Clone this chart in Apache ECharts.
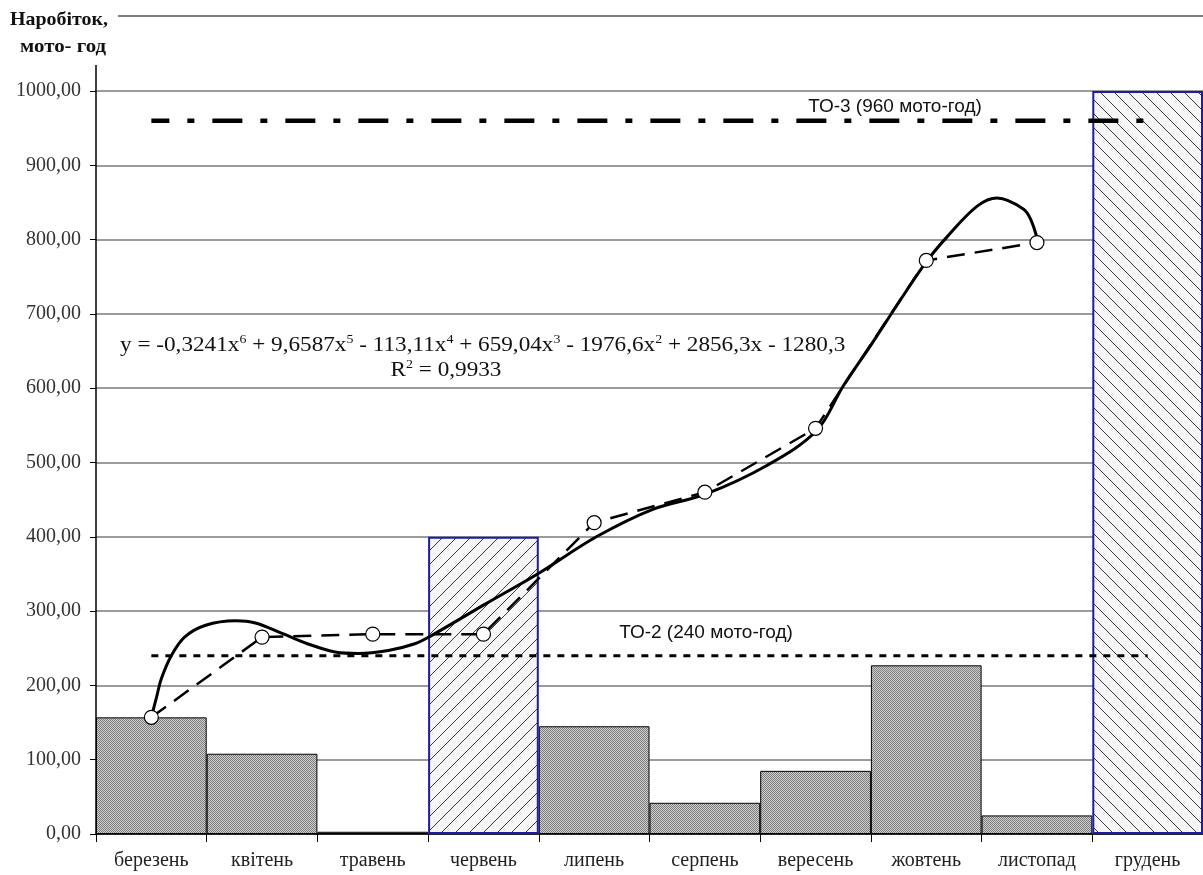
<!DOCTYPE html>
<html>
<head>
<meta charset="utf-8">
<script src="https://cdn.jsdelivr.net/npm/echarts@6/dist/echarts.min.js"></script>
<style>
  html, body { margin: 0; padding: 0; background: #fff; }
  #chart { width: 1203px; height: 875px; }
</style>
</head>
<body>
<div id="chart"></div>
<script>
// months
var months = ['березень', 'квітень', 'травень', 'червень', 'липень', 'серпень', 'вересень', 'жовтень', 'листопад', 'грудень'];
// monthly work (grey bars), hatched months = maintenance
var monthly = [157, 108, 3, null, 145, 42, 85, 227, 25, null];
var hatched = [null, null, null, 400, null, null, null, null, null, 1000];
// cumulative, dashed line with circles
var cumulative = [157, 265, 269, 269, 419, 460, 546, 772, 796, null];
// trend curve: [month position, value]
var trendX = [1.00, 1.05, 1.09, 1.18, 1.30, 1.49, 1.76, 1.94, 2.18, 2.45, 2.66, 2.87, 3.14, 3.38, 3.53, 4.00, 4.50, 5.02, 5.53, 6.00, 6.56, 7.01, 7.25, 7.50, 7.75, 8.00, 8.19, 8.46, 8.64, 8.88, 8.95, 9.01];
var trendY = [157, 186, 209, 240, 265, 281, 287, 284, 270, 254, 245, 243, 247, 256, 267, 308, 351, 400, 437, 457, 496, 543, 603, 658, 715, 770, 804, 845, 856, 841, 825, 797];
// service thresholds
var to3 = 960;
var to2 = 240;

var serif = '"Liberation Serif", "Times New Roman", serif';
var sans = '"Liberation Sans", Arial, sans-serif';

function stipple() {
    var c = document.createElement('canvas');
    c.width = 2; c.height = 2;
    var g = c.getContext('2d');
    g.fillStyle = '#d0d0d0'; g.fillRect(0, 0, 2, 2);
    g.fillStyle = '#7c7c7c'; g.fillRect(0, 0, 1, 1); g.fillRect(1, 1, 1, 1);
    return c;
}
function hatch(dir) {
    var s = 14;
    var c = document.createElement('canvas');
    c.width = s; c.height = s;
    var g = c.getContext('2d');
    g.fillStyle = '#f6f6f6'; g.fillRect(0, 0, s, s);
    g.strokeStyle = '#3a3a3a'; g.lineWidth = 1;
    g.beginPath();
    if (dir > 0) {
        g.moveTo(-s, s * 2); g.lineTo(s * 2, -s);
        g.moveTo(-s, s); g.lineTo(s, -s);
        g.moveTo(0, s * 2); g.lineTo(s * 2, 0);
    } else {
        g.moveTo(-s, -s); g.lineTo(s * 2, s * 2);
        g.moveTo(-s, 0); g.lineTo(s, s * 2);
        g.moveTo(0, -s); g.lineTo(s * 2, s);
    }
    g.stroke();
    return c;
}

var trendData = [];
for (var i = 0; i < trendX.length; i++) trendData.push([trendX[i], trendY[i]]);
var to3Data = months.map(function () { return to3; });
var to2Data = months.map(function () { return to2; });

var hatchStyled = hatched.map(function (v, i) {
    if (v == null) return null;
    return {
        value: v,
        itemStyle: {
            color: { image: hatch(i < 5 ? 1 : -1), repeat: 'repeat' },
            borderColor: '#1c1ca6',
            borderWidth: 2
        }
    };
});

var eqRich = {
    n: { fontFamily: serif, fontSize: 20, lineHeight: 24, fill: '#111' },
    s: { fontFamily: serif, fontSize: 12, lineHeight: 24, verticalAlign: 'top', fill: '#111' }
};

var myChart = echarts.init(document.getElementById('chart'));
myChart.setOption({
    animation: false,
    backgroundColor: '#fff',
    grid: { left: 96, right: 0, top: 91, bottom: 41, containLabel: false },
    xAxis: [
        {
            type: 'category',
            data: months,
            boundaryGap: true,
            axisLine: { lineStyle: { color: '#000', width: 1.5 } },
            axisTick: { show: true, length: 8, lineStyle: { color: '#000' } },
            axisLabel: { fontFamily: serif, fontSize: 20, color: '#222', margin: 17, interval: 0 },
            splitLine: { show: false }
        },
        {
            type: 'value',
            min: 0.5,
            max: 10.5,
            show: false
        }
    ],
    yAxis: {
        type: 'value',
        min: 0,
        max: 1000,
        interval: 100,
        axisLine: { show: true, lineStyle: { color: '#000', width: 1.5 } },
        axisTick: { show: true, length: 6, lineStyle: { color: '#000' } },
        axisLabel: {
            fontFamily: serif, fontSize: 20, color: '#333', margin: 15,
            formatter: function (v) { return v.toFixed(2).replace('.', ','); }
        },
        splitLine: { show: true, lineStyle: { color: '#7a7a7a', width: 1.5 } }
    },
    series: [
        {
            name: 'monthly',
            type: 'bar',
            data: monthly,
            barWidth: '100%',
            barGap: '-100%',
            itemStyle: {
                color: { image: stipple(), repeat: 'repeat' },
                borderColor: '#000',
                borderWidth: 1
            },
            z: 1
        },
        {
            name: 'hatched',
            type: 'bar',
            data: hatchStyled,
            barWidth: '100%',
            barGap: '-100%',
            z: 1
        },
        {
            name: 'to3',
            type: 'line',
            data: to3Data,
            symbol: 'none',
            lineStyle: { color: '#000', width: 4.5, type: [30, 18, 7, 18], dashOffset: 12 },
            z: 3
        },
        {
            name: 'to2',
            type: 'line',
            data: to2Data,
            symbol: 'none',
            lineStyle: { color: '#000', width: 3, type: [7, 7] },
            z: 3
        },
        {
            name: 'trend',
            type: 'line',
            xAxisIndex: 1,
            data: trendData,
            smooth: 0.35,
            symbol: 'none',
            lineStyle: { color: '#000', width: 3 },
            z: 4
        },
        {
            name: 'cumulative',
            type: 'line',
            data: cumulative,
            symbol: 'circle',
            symbolSize: 14,
            itemStyle: { color: '#fff', borderColor: '#000', borderWidth: 1.2 },
            lineStyle: { color: '#000', width: 2.5, type: [18, 10] },
            z: 5
        }
    ],
    graphic: [
        { type: 'line', shape: { x1: 118, y1: 16, x2: 1203, y2: 16 }, style: { stroke: '#555', lineWidth: 1.5 } },
        { type: 'line', shape: { x1: 96, y1: 65, x2: 96, y2: 92 }, style: { stroke: '#000', lineWidth: 1.5 } },
        { type: 'text', x: 10, y: 11, scaleX: 1.05, style: { text: 'Наробіток,', font: 'bold 19px ' + serif, fill: '#111' } },
        { type: 'text', x: 20, y: 38, scaleX: 1.1, style: { text: 'мото- год', font: 'bold 19px ' + serif, fill: '#111' } },
        { type: 'text', x: 895, y: 97, style: { text: 'ТО-3 (960 мото-год)', font: '19px ' + sans, fill: '#111', textAlign: 'center' } },
        { type: 'text', x: 706, y: 623, style: { text: 'ТО-2 (240 мото-год)', font: '19px ' + sans, fill: '#111', textAlign: 'center' } },
        {
            type: 'text', x: 120, y: 334, scaleX: 1.16,
            style: {
                text: '{n|y = -0,3241x}{s|6}{n| + 9,6587x}{s|5}{n| - 113,11x}{s|4}{n| + 659,04x}{s|3}{n| - 1976,6x}{s|2}{n| + 2856,3x - 1280,3}',
                rich: eqRich
            }
        },
        {
            type: 'text', x: 446, y: 359, scaleX: 1.16,
            style: {
                text: '{n|R}{s|2}{n| = 0,9933}',
                textAlign: 'center',
                rich: eqRich
            }
        }
    ]
});
</script>
</body>
</html>
